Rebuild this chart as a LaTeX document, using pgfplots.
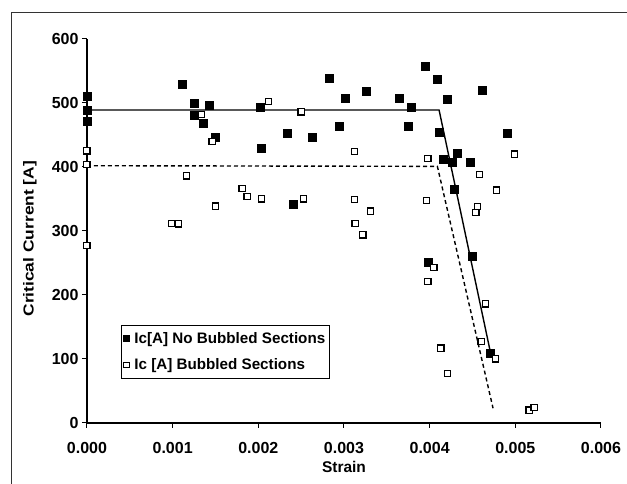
\documentclass[border=0pt]{standalone}
\usepackage{fontspec}
\setmainfont{Liberation Sans}
\newfontfamily\ylabfont[FakeStretch=1.2]{Liberation Sans}
\usepackage{pgfplots}
\pgfplotsset{compat=1.18}
\begin{document}
\begin{tikzpicture}[x=1pt,y=1pt]
\path[use as bounding box] (-87,-61) rectangle (540,423);
\draw[line width=1pt, black!80] (-75,-61) -- (-75,410) -- (540,410);
\begin{axis}[
  at={(0,0)}, anchor=south west,
  scale only axis, width=514pt, height=384pt,
  xmin=0, xmax=0.006, ymin=0, ymax=600,
  clip=false,
  axis x line*=bottom, axis y line*=left,
  x axis line style={-, line width=1.2pt},
  y axis line style={-, line width=1.2pt},
  xtick={0,0.001,0.002,0.003,0.004,0.005,0.006},
  ytick={0,100,200,300,400,500,600},
  tick align=outside, major tick length=5pt,
  tick style={line width=1pt, black},
  scaled x ticks=false,
  xticklabel style={yshift=-11pt, /pgf/number format/.cd, fixed, fixed zerofill, precision=3},
  /pgf/number format/assume math mode=true,
  ticklabel style={font=\fontsize{16}{18}\selectfont\bfseries},
  xlabel={Strain},
  ylabel={Critical Current [A]},
  xlabel style={font=\fontsize{15.5}{17}\selectfont\bfseries, at={(axis description cs:0.5,-0.114)}, anchor=center},
  ylabel style={font=\ylabfont\fontsize{14.5}{17}\selectfont\bfseries, at={(axis description cs:-0.111,0.48)}, anchor=center},
  legend style={at={(0.066,0.256)}, anchor=north west, draw=black, line width=1pt,
    font=\fontsize{15.2}{17}\selectfont\bfseries, inner xsep=2pt, inner ysep=5pt,
    row sep=10pt, cells={anchor=west}},
  legend cell align=left,
  legend image code/.code={\path[draw=none] (0pt,0pt) (9pt,0pt); \draw[#1, mark size=2.8pt] plot coordinates {(3pt,0pt)};},
]
\addplot[forget plot, black, line width=1.4pt] coordinates {(0,489) (0.00411,489) (0.00471,110)};
\addplot[forget plot, black, line width=1.4pt, dash pattern=on 4pt off 3pt] coordinates {(0,402) (0.00409,401) (0.00474,23)};
\addplot[only marks, mark=square*, mark size=4pt, mark options={fill=black, draw=black, line width=0.5pt}] table {
x y
0 510
0 489
0 472
0.00111 529
0.00125 500
0.00125 481
0.00143 497
0.00136 469
0.00150 446
0.00202 494
0.00203 430
0.00234 452
0.00241 342
0.00263 446
0.00283 538
0.00294 464
0.00302 508
0.00326 518
0.00365 508
0.00375 463
0.00378 493
0.00395 558
0.00398 251
0.00409 537
0.00411 455
0.00416 412
0.00421 506
0.00426 407
0.00429 366
0.00432 421
0.00447 408
0.00450 260
0.00461 520
0.00471 109
0.00490 453
};
\addlegendentry{Ic[A] No Bubbled Sections}
\addplot[only marks, mark=square*, mark size=3.1pt, mark options={fill=white, draw=black, line width=1.2pt}] table {
x y
0 425
0 404
0 277
0.00099 312
0.00107 311
0.00116 386
0.00134 482
0.00146 440
0.00150 339
0.00181 366
0.00187 354
0.00204 350
0.00212 502
0.00250 486
0.00253 350
0.00312 424
0.00312 349
0.00313 312
0.00322 294
0.00331 331
0.00396 348
0.00398 413
0.00398 221
0.00405 243
0.00413 117
0.00421 77
0.00454 329
0.00456 338
0.00458 388
0.00460 127
0.00465 186
0.00477 100
0.00478 364
0.00499 420
0.00516 20
0.00522 24
};
\addlegendentry{Ic [A] Bubbled Sections}
\end{axis}
\end{tikzpicture}
\end{document}
